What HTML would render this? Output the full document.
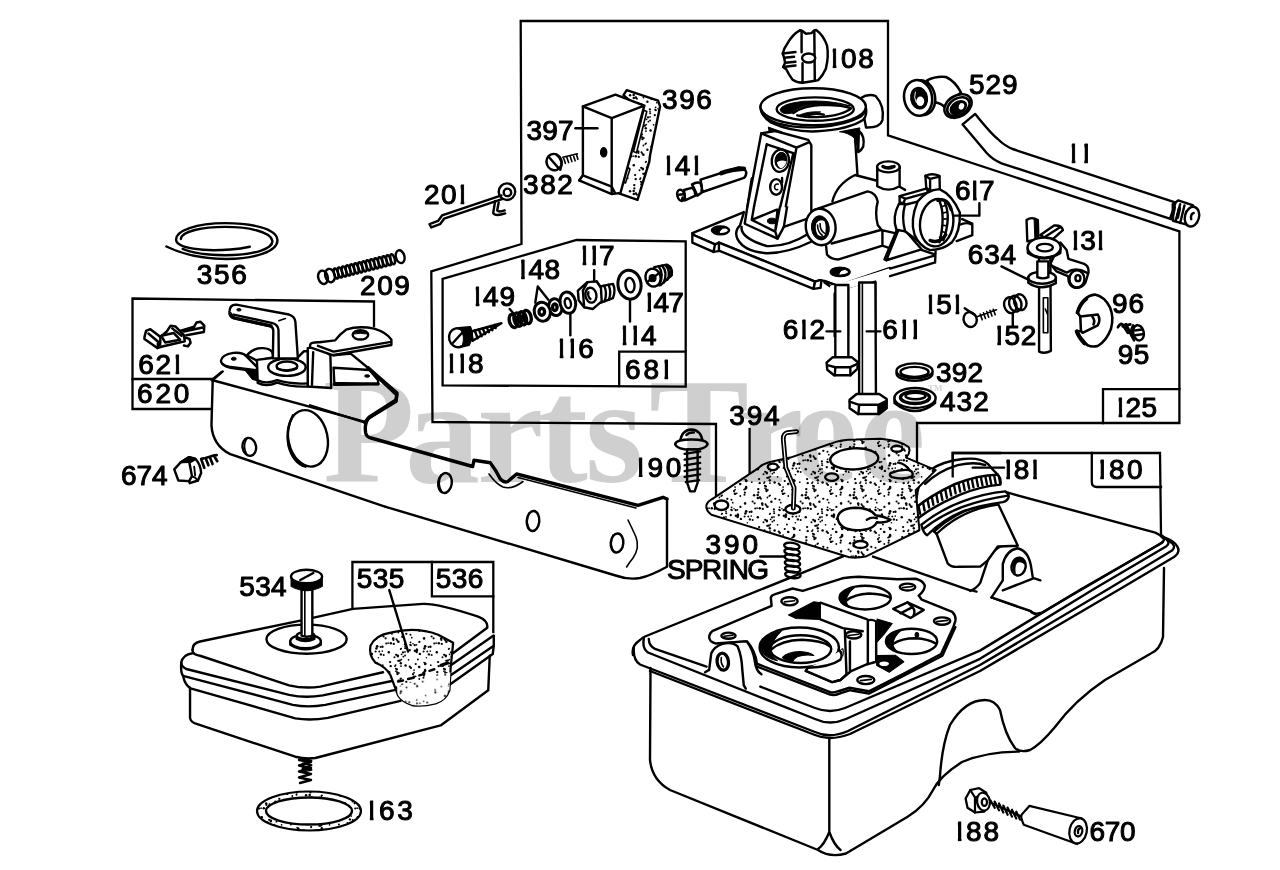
<!DOCTYPE html>
<html><head><meta charset="utf-8"><title>Parts Diagram</title>
<style>
html,body{margin:0;padding:0;background:#fff;}
body{width:1280px;height:870px;overflow:hidden;font-family:"Liberation Sans",sans-serif;}
svg{display:block;position:absolute;left:0;top:0;}
.wm{font-family:"Liberation Serif",serif;font-weight:bold;fill:#000;fill-opacity:0.19;}
.l{fill:none;stroke:#000;stroke-width:2.4;stroke-linecap:round;stroke-linejoin:round;}
.t{fill:none;stroke:#000;stroke-width:1.6;stroke-linecap:round;stroke-linejoin:round;}
.h{fill:none;stroke:#000;stroke-width:3.4;stroke-linecap:round;stroke-linejoin:round;}
.w{fill:#fff;stroke:#000;stroke-width:2.4;stroke-linecap:round;stroke-linejoin:round;}
.wt{fill:#fff;stroke:#000;stroke-width:1.6;stroke-linecap:round;stroke-linejoin:round;}
.k{fill:#000;stroke:#000;stroke-width:1;stroke-linejoin:round;}
.f{fill:#fff;stroke:none;}
.n{font-family:"Liberation Sans",sans-serif;fill:#000;stroke:#000;stroke-width:1.05;stroke-linejoin:round;}
.bx{fill:none;stroke:#000;stroke-width:2.3;stroke-linecap:square;stroke-linejoin:miter;}
g.z4 .l, g.z4 .w{stroke-width:9.6;} g.z4 .t, g.z4 .wt{stroke-width:6.4;} g.z4 .h{stroke-width:13.5;} g.z4 .k{stroke-width:4;}
g.z6 .l, g.z6 .w{stroke-width:15.3;} g.z6 .t, g.z6 .wt{stroke-width:10.2;} g.z6 .h{stroke-width:21.5;} g.z6 .k{stroke-width:6;}
g.z5 .l, g.z5 .w{stroke-width:12;} g.z5 .t, g.z5 .wt{stroke-width:8;} g.z5 .h{stroke-width:16;} g.z5 .k{stroke-width:5;}
</style></head>
<body>
<svg width="1280" height="870" viewBox="0 0 1280 870">
<rect width="1280" height="870" fill="#fff"/>
<!-- 00_boxes.py -->
<g id="boxes">
<path class="bx" d="M716,496 L716,424 L432.5,422 L431.3,271.4 L521.5,244 L520.7,21 L888,21 L888,135.3 L1179.4,231.3 L1179.4,423 L917,423 L917,461"/>
<path class="bx" d="M1103,423 L1103,389.2 L1179.4,389.2"/>
<path class="bx" d="M442.6,278.9 L576.6,240 L685.7,241.3 L685.7,386.6 L442.6,385.4 Z"/>
<path class="bx" d="M619.2,386 L619.2,351.6 L685.7,351.6"/>
<path class="bx" d="M211,409 L132.5,409 L132.5,298.5 L374,301.5 L374,326"/>
<path class="bx" d="M132.5,379 L212,379"/>
<path class="bx" d="M352.4,609 L352.4,562 L493.3,562 L493.3,632"/>
<path class="bx" d="M431.9,562 L431.9,596.4 L493.3,596.4"/>
<path class="bx" d="M952.7,476.4 L952.7,453 L1160,453 L1161,534"/>
<path class="bx" d="M1091.8,453 L1091.8,482 Q1091.8,487 1097,487 L1161,487"/>
<path class="bx" d="M749.6,429 L749.6,478"/>
</g>

<!-- 05_defs.py -->
<defs><pattern id="stipD" width="48" height="48" patternUnits="userSpaceOnUse"><rect width="48" height="48" fill="#fff"/><circle cx="21.7" cy="26.9" r="1.26"/><circle cx="22.4" cy="24.4" r="1.09"/><circle cx="8.9" cy="24.6" r="1.11"/><circle cx="38.1" cy="4.5" r="0.95"/><circle cx="4.4" cy="38.9" r="1.15"/><circle cx="2.0" cy="47.1" r="1.28"/><circle cx="2.0" cy="-0.9" r="1.28"/><circle cx="31.4" cy="29.5" r="0.88"/><circle cx="0.7" cy="25.4" r="0.83"/><circle cx="48.7" cy="25.4" r="0.83"/><circle cx="9.1" cy="11.6" r="0.82"/><circle cx="22.3" cy="21.1" r="1.22"/><circle cx="24.9" cy="30.7" r="1.05"/><circle cx="31.8" cy="22.0" r="0.94"/><circle cx="47.9" cy="47.8" r="1.22"/><circle cx="-0.1" cy="-0.2" r="1.22"/><circle cx="-0.1" cy="47.8" r="1.22"/><circle cx="47.9" cy="-0.2" r="1.22"/><circle cx="34.0" cy="15.1" r="0.91"/><circle cx="13.9" cy="3.4" r="1.18"/><circle cx="19.2" cy="40.6" r="0.99"/><circle cx="46.0" cy="40.7" r="0.80"/><circle cx="10.1" cy="43.7" r="1.03"/><circle cx="47.1" cy="19.1" r="0.84"/><circle cx="30.2" cy="37.4" r="0.93"/><circle cx="4.2" cy="16.0" r="1.28"/><circle cx="36.4" cy="5.7" r="0.92"/><circle cx="4.9" cy="2.9" r="1.20"/><circle cx="8.5" cy="26.8" r="1.02"/><circle cx="9.2" cy="35.1" r="0.87"/><circle cx="30.9" cy="5.6" r="1.01"/><circle cx="10.2" cy="13.0" r="1.29"/><circle cx="38.6" cy="14.6" r="1.24"/><circle cx="10.1" cy="18.9" r="1.23"/><circle cx="30.8" cy="4.8" r="1.29"/><circle cx="10.2" cy="12.4" r="1.19"/><circle cx="15.8" cy="14.2" r="0.84"/><circle cx="4.3" cy="28.0" r="0.92"/><circle cx="28.9" cy="17.8" r="1.03"/><circle cx="46.0" cy="23.2" r="1.09"/><circle cx="41.6" cy="8.8" r="0.88"/><circle cx="43.6" cy="39.3" r="0.92"/><circle cx="9.1" cy="35.5" r="1.27"/><circle cx="9.4" cy="45.6" r="1.24"/><circle cx="29.0" cy="20.2" r="0.85"/><circle cx="1.9" cy="46.2" r="0.92"/><circle cx="33.8" cy="12.3" r="1.21"/><circle cx="28.6" cy="14.1" r="0.89"/><circle cx="34.6" cy="3.3" r="0.91"/><circle cx="26.8" cy="40.9" r="1.11"/><circle cx="13.5" cy="44.0" r="0.90"/><circle cx="0.8" cy="12.9" r="1.02"/><circle cx="48.8" cy="12.9" r="1.02"/><circle cx="2.9" cy="8.5" r="0.98"/><circle cx="27.5" cy="6.3" r="0.98"/><circle cx="42.8" cy="47.1" r="1.13"/><circle cx="42.8" cy="-0.9" r="1.13"/><circle cx="33.2" cy="28.1" r="0.87"/><circle cx="1.7" cy="0.9" r="1.26"/><circle cx="1.7" cy="48.9" r="1.26"/><circle cx="33.6" cy="46.2" r="0.81"/><circle cx="30.5" cy="23.1" r="1.17"/><circle cx="15.3" cy="48.0" r="0.84"/><circle cx="15.3" cy="-0.0" r="0.84"/><circle cx="26.2" cy="35.4" r="1.25"/><circle cx="35.4" cy="33.8" r="1.20"/><circle cx="43.9" cy="16.9" r="1.14"/><circle cx="43.2" cy="41.8" r="1.01"/><circle cx="37.9" cy="41.4" r="1.09"/><circle cx="30.0" cy="18.4" r="1.09"/><circle cx="29.2" cy="3.8" r="1.12"/><circle cx="47.7" cy="42.2" r="1.16"/><circle cx="-0.3" cy="42.2" r="1.16"/><circle cx="18.6" cy="35.3" r="1.09"/><circle cx="21.1" cy="40.2" r="0.84"/><circle cx="36.0" cy="1.4" r="1.10"/><circle cx="23.1" cy="11.1" r="1.15"/><circle cx="23.9" cy="29.5" r="1.26"/><circle cx="12.3" cy="0.5" r="0.95"/><circle cx="12.3" cy="48.5" r="0.95"/><circle cx="32.6" cy="9.7" r="0.88"/><circle cx="43.5" cy="31.7" r="1.02"/><circle cx="42.8" cy="15.7" r="1.13"/><circle cx="9.5" cy="20.7" r="1.20"/><circle cx="43.9" cy="42.3" r="0.99"/><circle cx="28.0" cy="15.2" r="0.87"/><circle cx="23.8" cy="40.2" r="1.22"/><circle cx="34.1" cy="45.6" r="0.94"/><circle cx="8.1" cy="21.6" r="0.94"/><circle cx="10.3" cy="19.9" r="1.11"/><circle cx="23.7" cy="15.1" r="1.22"/><circle cx="47.1" cy="21.7" r="0.84"/><circle cx="1.5" cy="41.9" r="0.82"/><circle cx="34.0" cy="27.4" r="0.95"/><circle cx="38.0" cy="0.9" r="0.87"/><circle cx="21.8" cy="1.2" r="1.21"/><circle cx="21.8" cy="49.2" r="1.21"/><circle cx="11.4" cy="6.8" r="0.82"/><circle cx="30.2" cy="21.4" r="1.11"/><circle cx="31.4" cy="38.8" r="1.28"/><circle cx="32.9" cy="9.6" r="1.04"/><circle cx="8.6" cy="0.5" r="1.04"/><circle cx="8.6" cy="48.5" r="1.04"/><circle cx="34.3" cy="8.6" r="0.94"/><circle cx="16.6" cy="33.5" r="1.06"/><circle cx="29.5" cy="36.3" r="1.00"/><circle cx="38.0" cy="43.5" r="0.84"/><circle cx="44.8" cy="34.7" r="0.86"/><circle cx="21.8" cy="30.0" r="1.25"/><circle cx="18.1" cy="27.3" r="1.24"/><circle cx="38.2" cy="45.3" r="1.03"/><circle cx="31.3" cy="9.8" r="1.16"/><circle cx="39.3" cy="30.8" r="1.16"/><circle cx="10.2" cy="43.2" r="1.29"/><circle cx="46.9" cy="25.8" r="1.20"/><circle cx="-1.1" cy="25.8" r="1.20"/><circle cx="15.4" cy="43.7" r="1.23"/><circle cx="16.7" cy="4.0" r="1.02"/><circle cx="26.4" cy="36.9" r="1.04"/></pattern><pattern id="stipL" width="48" height="48" patternUnits="userSpaceOnUse"><rect width="48" height="48" fill="#fff"/><circle cx="1.4" cy="38.8" r="0.73"/><circle cx="38.4" cy="8.3" r="0.85"/><circle cx="37.8" cy="6.7" r="0.77"/><circle cx="24.8" cy="34.7" r="1.08"/><circle cx="33.1" cy="45.4" r="0.92"/><circle cx="45.6" cy="4.1" r="0.80"/><circle cx="25.3" cy="13.9" r="1.03"/><circle cx="30.7" cy="25.1" r="1.08"/><circle cx="26.9" cy="15.0" r="0.87"/><circle cx="40.6" cy="43.2" r="0.79"/><circle cx="40.8" cy="46.5" r="0.94"/><circle cx="27.5" cy="9.6" r="0.94"/><circle cx="24.2" cy="29.1" r="0.71"/><circle cx="46.5" cy="24.8" r="0.88"/><circle cx="38.5" cy="27.0" r="0.92"/><circle cx="33.2" cy="3.2" r="0.94"/><circle cx="19.9" cy="45.9" r="1.12"/><circle cx="12.9" cy="22.7" r="0.76"/><circle cx="20.8" cy="39.2" r="1.11"/><circle cx="22.9" cy="15.2" r="0.79"/><circle cx="29.7" cy="44.4" r="0.76"/><circle cx="37.4" cy="1.1" r="0.79"/><circle cx="10.9" cy="33.0" r="0.84"/><circle cx="17.1" cy="29.7" r="0.75"/><circle cx="35.1" cy="5.9" r="0.93"/><circle cx="12.0" cy="9.5" r="0.94"/><circle cx="21.0" cy="18.0" r="0.89"/><circle cx="25.4" cy="7.7" r="0.79"/><circle cx="30.3" cy="30.6" r="0.94"/><circle cx="40.9" cy="29.4" r="1.09"/><circle cx="11.2" cy="35.6" r="1.06"/><circle cx="43.3" cy="15.2" r="0.84"/><circle cx="44.3" cy="10.5" r="1.15"/><circle cx="42.6" cy="6.4" r="0.81"/><circle cx="34.9" cy="12.5" r="0.74"/><circle cx="39.9" cy="20.2" r="1.06"/><circle cx="6.0" cy="19.3" r="1.01"/><circle cx="0.9" cy="9.6" r="1.01"/><circle cx="48.9" cy="9.6" r="1.01"/><circle cx="43.7" cy="46.5" r="0.75"/><circle cx="24.3" cy="36.4" r="0.93"/><circle cx="32.9" cy="9.1" r="0.73"/><circle cx="5.1" cy="1.8" r="0.95"/><circle cx="24.7" cy="27.3" r="0.77"/><circle cx="8.9" cy="9.8" r="1.08"/><circle cx="47.5" cy="44.5" r="0.74"/><circle cx="-0.5" cy="44.5" r="0.74"/><circle cx="3.0" cy="45.7" r="0.91"/></pattern><pattern id="stipD4" href="#stipD" patternTransform="scale(3.99)"/><pattern id="stipL4" href="#stipL" patternTransform="scale(3.99)"/></defs>
<!-- 10_topleft.py -->
<g class="z4" transform="translate(120,160) scale(0.2506)">
<path class="l" d="M185,345 C240,372 310,394 425,395 C545,395 632,362 628,318 C624,272 520,252 420,252 C305,252 220,282 224,320 C228,352 330,366 440,357 C480,354 500,350 518,346"/>
<path class="l" d="M243,315 C245,284 330,267 420,267 C515,267 602,287 608,322 C612,352 540,380 420,380 C345,380 285,370 250,355"/>
<ellipse class="l" cx="810.0" cy="468.0" rx="19.0" ry="27.0" transform="rotate(-15.0 810.0 468.0)"/>
<ellipse class="l" cx="838.0" cy="461.0" rx="19.0" ry="27.0" transform="rotate(-15.0 838.0 461.0)"/>
<ellipse class="l" cx="862.0" cy="453.0" rx="8.0" ry="21.0" transform="rotate(-15.0 862.0 453.0)"/>
<ellipse class="l" cx="878.1" cy="448.9" rx="8.0" ry="21.0" transform="rotate(-15.0 878.1 448.9)"/>
<ellipse class="l" cx="894.3" cy="444.9" rx="8.0" ry="21.0" transform="rotate(-15.0 894.3 444.9)"/>
<ellipse class="l" cx="910.4" cy="440.8" rx="8.0" ry="21.0" transform="rotate(-15.0 910.4 440.8)"/>
<ellipse class="l" cx="926.6" cy="436.7" rx="8.0" ry="21.0" transform="rotate(-15.0 926.6 436.7)"/>
<ellipse class="l" cx="942.7" cy="432.6" rx="8.0" ry="21.0" transform="rotate(-15.0 942.7 432.6)"/>
<ellipse class="l" cx="958.9" cy="428.6" rx="8.0" ry="21.0" transform="rotate(-15.0 958.9 428.6)"/>
<ellipse class="l" cx="975.0" cy="424.5" rx="8.0" ry="21.0" transform="rotate(-15.0 975.0 424.5)"/>
<ellipse class="l" cx="991.1" cy="420.4" rx="8.0" ry="21.0" transform="rotate(-15.0 991.1 420.4)"/>
<ellipse class="l" cx="1007.3" cy="416.4" rx="8.0" ry="21.0" transform="rotate(-15.0 1007.3 416.4)"/>
<ellipse class="l" cx="1023.4" cy="412.3" rx="8.0" ry="21.0" transform="rotate(-15.0 1023.4 412.3)"/>
<ellipse class="l" cx="1039.6" cy="408.2" rx="8.0" ry="21.0" transform="rotate(-15.0 1039.6 408.2)"/>
<ellipse class="l" cx="1055.7" cy="404.1" rx="8.0" ry="21.0" transform="rotate(-15.0 1055.7 404.1)"/>
<ellipse class="l" cx="1071.9" cy="400.1" rx="8.0" ry="21.0" transform="rotate(-15.0 1071.9 400.1)"/>
<ellipse class="l" cx="1088.0" cy="396.0" rx="8.0" ry="21.0" transform="rotate(-15.0 1088.0 396.0)"/>
<ellipse class="l" cx="1118" cy="386" rx="17" ry="26" transform="rotate(-15 1118 386)"/>
</g>
<g class="z4" transform="translate(120,290) scale(0.2506)">
<path class="l" d="M370,360 L975,525"/>
<path class="l" d="M370,360 L365,540 Q370,620 440,655 L1060,865"/>
<path class="l" d="M370,360 L410,325"/>
<ellipse class="l" cx="750" cy="592" rx="78" ry="114" transform="rotate(-12 750 592)"/>
<path class="l" d="M690,500 Q660,560 672,620 Q690,690 740,705"/>
<ellipse class="l" cx="516" cy="626" rx="27" ry="36" transform="rotate(-10 516 626)"/>
<path class="t" d="M503,598 Q490,625 505,655"/>
</g>
<g class="z6" transform="translate(210,295) scale(0.15637)">
<path class="w" d="M625,340 L625,585 L775,595 L770,385 L690,330 Z"/>
<path class="l" d="M660,365 L652,575"/>
<path class="w" d="M640,322 Q640,300 700,302 L800,290 Q830,250 870,222 Q950,195 1050,215 Q1130,240 1160,285 L1160,320 L785,385 L640,335 Z"/>
<path class="l" d="M690,325 L790,362 L1158,300"/>
<ellipse class="l" cx="962" cy="255" rx="50" ry="30"/>
<path class="k" d="M915,250 Q960,215 1010,250 Q960,240 915,250 Z"/>
<path class="w" d="M790,465 L1020,480 L1075,545 L1075,570 L795,562 Z"/>
<path class="h" d="M795,572 L1075,568"/>
<ellipse class="k" cx="1005" cy="518" rx="16" ry="8"/>
<path class="l" d="M790,385 L900,375 L1010,465"/>
<path class="h" d="M1010,465 L1195,640 L1190,680 L1010,790 L990,815"/>

<path class="w" d="M235,385 Q280,335 340,340 Q400,345 402,380 L405,400 L300,420 Z"/>
<path class="w" d="M300,415 L420,400 L560,400 L600,360 L625,360 L625,585 Q520,590 430,560 Q360,590 305,562 Z"/>
<path class="l" d="M305,545 Q360,572 430,545 Q520,572 622,565"/>
<ellipse class="w" cx="492" cy="462" rx="120" ry="55"/>
<ellipse class="l" cx="492" cy="455" rx="66" ry="30"/>
<path class="l" d="M430,470 Q490,495 555,468"/>

<path class="k" d="M215,470 L300,480 L300,548 L270,540 Z"/>
<path class="w" d="M70,420 Q75,382 150,370 Q210,365 230,390 L300,460 L300,482 L120,458 Q70,448 70,420 Z"/>
<path class="l" d="M80,440 Q100,462 130,465 L300,488"/>
<ellipse class="k" cx="152" cy="408" rx="16" ry="10"/>

<path class="w" d="M125,100 Q128,60 168,62 L505,125 Q542,135 546,172 L562,405 L402,405 L405,230 Q405,205 385,200 L150,148 Q120,135 125,100 Z"/>
<path class="l" d="M150,125 L400,180 Q436,190 438,225 L440,412"/>
<path class="h" d="M130,120 Q135,142 160,148 L390,198"/>
<path class="t" d="M440,165 L482,150"/>
<ellipse class="k" cx="185" cy="95" rx="14" ry="8"/>

<path class="l" d="M10,545 L75,492"/>
</g>
<g transform="translate(130,310) scale(0.0782)" fill="none" stroke="#000" stroke-width="32" stroke-linejoin="round" stroke-linecap="round"><path d="M185,345 L205,268 L260,245 L390,345 L385,440 L350,485 L185,372 Z"/><path d="M235,300 L360,405 L355,450 M390,345 L470,275 L520,200 L580,210 L690,320 L700,400 L400,470 L350,485"/><path d="M400,330 L560,295 L640,380 L450,415 Z M540,235 L660,330"/><path d="M640,268 L820,215 L850,160 L900,150 L950,200 L945,280 L720,322 M690,275 L930,225"/><path d="M700,350 L760,370 L775,420 L740,465 L690,455"/></g>
<g transform="translate(160,440) scale(0.0633)" fill="#fff" stroke="#000" stroke-width="38" stroke-linejoin="round" stroke-linecap="round"><path d="M330,350 L460,270 L560,300 Q640,380 650,520 L600,640 L470,682 L460,650 Z"/><path d="M225,465 L330,350 L460,335 L505,570 L460,650 L290,640 Z"/><path d="M330,350 L460,270 L560,300 L480,345 Z M460,335 L560,300" fill="#000"/><path d="M540,420 L555,560 M600,640 L560,600 L505,570" fill="none" stroke-width="30"/><path d="M650,300 L700,440 M720,285 L765,400 M785,265 L830,380 M850,245 L905,335 M650,300 L690,290 M720,285 L760,272 M785,265 L825,252 M850,245 L895,240" fill="none" stroke-width="42"/></g>
<!-- 20_mid.py -->
<defs>
<clipPath id="c396"><path d="M825,280 L950,322 L958,345 L918,540 L915,565 L868,718 L788,690 L830,560 L835,520 L880,360 L812,300 Z"/></clipPath>
</defs>
<g class="z4" transform="translate(420,20) scale(0.2506)">
<path class="l" d="M38,815 L72,802 L88,780 L325,700 M45,828 L80,815 L96,793 L330,714 M38,815 L45,828"/>
<circle class="l" cx="347" cy="685" r="33"/><circle class="l" cx="349" cy="688" r="15"/>
<path class="l" d="M300,722 L292,770 Q300,785 340,772 M314,728 L308,760 Q315,768 338,760"/>
<ellipse class="l" cx="535" cy="567" rx="30" ry="33" transform="rotate(-20 535 567)"/>
<path class="l" d="M515,548 L552,590 M545,538 Q575,560 560,598"/>
<path class="t" d="M572,548 L580,572 M585,545 L593,569 M598,541 L606,565 M611,538 L619,562 M624,535 L630,556 M570,548 L628,534"/>
<path d="M825,280 L950,322 L958,345 L918,540 L915,565 L868,718 L788,690 L830,560 L835,520 L880,360 L812,300 Z" fill="url(#stipD4)" stroke="#000" stroke-width="9.6" stroke-linejoin="round"/>
<path class="wt" d="M852,525 L893,360 L905,365 L864,530 Z"/><path class="wt" d="M808,645 L825,590 L838,595 L820,650 Z"/>
<path class="w" d="M650,345 L780,298 L895,342 L800,690 L765,695 L635,640 L650,620 Z"/>
<path class="l" d="M650,345 L765,392 L895,342 M765,392 L765,692 M650,620 L765,665 M635,640 L650,620"/>
<path class="l" d="M765,665 L778,690"/>
<ellipse class="k" cx="733" cy="528" rx="13" ry="19"/>
<path class="l" d="M620,432 L708,432"/>
</g>
<g class="z4" transform="translate(420,225) scale(0.2506)">
<ellipse class="l" cx="150" cy="450" rx="34" ry="38" transform="rotate(-15 150 450)"/>
<path class="l" d="M132,470 L170,428"/>
<path class="l" d="M155,412 L200,408 Q215,440 195,478 L165,485"/>
<path class="k" d="M160,412 L200,408 Q215,440 195,478 L168,484 Q182,445 160,412 Z"/>
<path class="l" d="M205,425 L325,392 L210,462 Z"/>
<path class="l" d="M218,420 L230,452 M234,416 L246,444 M250,412 L260,436 M266,408 L275,428 M282,403 L289,420 M298,399 L302,411"/>
<ellipse class="h" cx="372.0" cy="383.0" rx="15.0" ry="27.0" transform="rotate(-15.0 372.0 383.0)"/>
<ellipse class="h" cx="390.7" cy="377.7" rx="15.0" ry="27.0" transform="rotate(-15.0 390.7 377.7)"/>
<ellipse class="h" cx="409.3" cy="372.3" rx="15.0" ry="27.0" transform="rotate(-15.0 409.3 372.3)"/>
<ellipse class="h" cx="428.0" cy="367.0" rx="15.0" ry="27.0" transform="rotate(-15.0 428.0 367.0)"/>
<ellipse class="w" cx="540" cy="328" rx="26" ry="34" transform="rotate(-15 540 328)" style="stroke-width:12"/><ellipse class="h" cx="538" cy="328" rx="9" ry="13"/>
<ellipse class="w" cx="488" cy="346" rx="32" ry="38" transform="rotate(-15 488 346)" style="stroke-width:12"/><ellipse class="h" cx="486" cy="346" rx="11" ry="14"/>
<path class="l" d="M470,245 L460,310 M470,245 L512,298"/>
<ellipse class="w" cx="590" cy="310" rx="31" ry="43" transform="rotate(-12 590 310)" style="stroke-width:12"/><ellipse class="l" cx="590" cy="312" rx="12" ry="20" transform="rotate(-12 590 312)"/>
<path class="l" d="M600,355 L600,440"/>
<path class="w" d="M720,245 L770,235 Q782,260 770,292 L722,310 Z"/>
<path class="l" d="M735,242 Q748,270 737,304 M752,238 Q765,266 754,298"/>
<path class="w" d="M630,262 L668,228 L705,225 L722,250 L725,305 L690,335 L655,328 L633,300 Z"/>
<path class="l" d="M668,228 L650,262 L655,328 M705,225 L722,250"/>
<ellipse class="l" cx="682" cy="280" rx="22" ry="30" transform="rotate(-10 682 280)"/>
<path class="l" d="M672,268 Q668,285 680,295"/>
<path class="l" d="M695,180 L695,225"/>
<ellipse class="w" cx="836" cy="238" rx="46" ry="58" transform="rotate(-8 836 238)" style="stroke-width:12"/><ellipse class="l" cx="838" cy="240" rx="18" ry="29" transform="rotate(-8 838 240)"/>
<path class="l" d="M838,298 L838,385"/>
<path class="w" d="M935,168 L985,158 Q1010,170 1005,200 L960,240 L930,240 Z"/>
<path class="l" d="M952,165 Q975,195 955,240 M966,162 Q990,190 972,230 M980,160 Q1002,185 988,218 M992,163 Q1010,182 1000,205"/>
<ellipse class="w" cx="930" cy="210" rx="30" ry="36" transform="rotate(-15 930 210)"/>
<ellipse class="k" cx="928" cy="212" rx="14" ry="14"/>
<path class="l" d="M910,225 L950,195"/>
<path class="l" d="M358,335 L378,358"/>
</g>
<g transform="translate(660,140) scale(0.0943)" fill="#fff" stroke="#000" stroke-width="27" stroke-linejoin="round" stroke-linecap="round"><path d="M430,420 L830,292 Q900,285 915,345 Q912,390 890,402 L450,552 Z"/><path d="M650,352 Q760,310 890,305" fill="none" stroke-width="48"/><path d="M340,470 Q390,440 430,455 Q450,500 440,560 L395,590 Q375,540 340,470 Z"/><path d="M255,530 L345,505 Q378,545 375,590 L265,640 Z"/><ellipse cx="222" cy="587" rx="38" ry="60" transform="rotate(-15 222 587)"/><path d="M200,580 L245,575 M240,610 L232,640" fill="none"/></g>
<!-- 30_carb.py -->
<g class="z6" transform="translate(690,180) scale(0.15637)"><path class="f" d="M925,690 L925,1000 L1010,1000 L1010,690 Z"/><path class="l" d="M925,690 L925,1000 M1010,690 L1010,1000"/>
<path class="f" d="M1085,670 L1085,1000 L1185,1000 L1185,650 Z"/><path class="l" d="M1085,670 L1085,1000 M1185,650 L1185,1000"/>
<path class="t" d="M1108,680 L1108,1000"/><path class="k" d="M1150,650 L1185,640 L1185,700 Z"/></g>
<g class="z6" transform="translate(690,180) scale(0.15637)"><path class="f" d="M15,340 L345,205 L900,120 L1600,300 L1562,480 L945,677 L860,645 L832,640 L800,650 L185,400 L160,412 L30,355 Z"/>
<path class="l" d="M345,205 L15,340 L30,355 L160,412 L185,400 L800,650 L832,640 L860,645 L945,677 L1279,562"/>
<path class="w" d="M15,340 L15,400 L150,460 L160,412 L30,355 Z"/>
<path class="w" d="M185,400 L185,452 L790,696 L800,650 Z"/>
<path class="w" d="M800,650 L790,696 L835,690 L840,645 L832,640 Z"/>
<path class="w" d="M860,647 L860,655 L940,710 L945,677 Z"/>
<path class="f" d="M945,677 L940,710 L1279,598 L1279,562 Z"/><path class="l" d="M945,677 L940,710 L1279,598"/>
<path class="l" d="M150,460 L180,455 L185,452"/>
<ellipse class="l" cx="195" cy="322" rx="55" ry="25"/><path class="k" d="M142,322 Q150,298 195,298 Q215,300 225,305 Q190,310 185,345 Q150,345 142,322 Z"/>
<ellipse class="l" cx="960" cy="588" rx="58" ry="25"/><path class="k" d="M904,588 Q912,564 960,564 Q980,566 990,571 Q955,576 950,611 Q912,611 904,588 Z"/></g>
<g class="z6" transform="translate(830,150) scale(0.15637)"><path class="f" d="M0,872 L662,677 L675,650 L672,719 L192,864 L0,920 Z"/>
<path class="l" d="M384,758 L662,677 M384,806 L668,720 M675,650 L672,720 M584,638 L660,665"/>
<path class="f" d="M810,580 L910,545 L910,470 L840,440 L780,500 L700,600 Z"/>
<path class="l" d="M810,582 L910,545 L910,470 L845,442 M830,478 Q870,458 905,476"/>
<ellipse class="l" cx="65" cy="780" rx="60" ry="26"/><path class="k" d="M8,780 Q15,756 60,756 Q85,758 95,763 Q58,768 52,803 Q15,803 8,780 Z"/></g>
<g class="z6" transform="translate(690,180) scale(0.15637)"><path class="f" d="M345,205 L320,290 Q280,330 305,380 Q350,460 490,468 Q620,470 775,395 L775,160 L345,160 Z"/>
<path class="l" d="M345,205 L320,290 Q280,330 305,380 Q350,460 490,468 Q620,470 775,395"/>
<path class="l" d="M330,300 Q320,370 490,422 Q620,430 760,342"/></g>
<g class="z6" transform="translate(730,70) scale(0.15637)"><path class="w" d="M835,180 Q880,150 930,165 Q990,230 975,320 Q960,370 870,368 Z"/>
<path class="w" d="M820,385 Q865,420 852,490 Q840,515 820,525 Z"/>
<path class="f" d="M250,340 L250,1010 L815,960 L815,660 L800,440 L800,360 Z"/>
<path class="l" d="M800,400 L800,440 L815,668"/>
<path class="k" d="M700,395 L830,370 L822,520 L800,440 Q760,400 700,395 Z"/>
<path class="k" d="M245,365 L330,395 L250,395 Z"/></g>
<g class="z6" transform="translate(690,180) scale(0.15637)"><path class="f" d="M395,-10 L350,280 L560,375 L600,300 L770,240 L770,-10 Z"/>
<path class="l" d="M395,-10 L350,280 L560,375 L600,300 L770,240"/>
<path class="l" d="M440,-10 L395,255 L545,330 L560,375 M395,255 L555,190 M545,330 L610,-10 M600,300 L650,-10 M560,190 L545,330"/>
<ellipse class="k" cx="525" cy="262" rx="30" ry="18"/></g>
<g class="z6" transform="translate(730,70) scale(0.15637)"><path class="f" d="M200,405 L288,390 L500,447 L520,480 L520,872 L112,872 Z"/>
<path class="l" d="M112,872 L200,405 L288,390 L500,447 L520,480 L520,960"/>
<path class="l" d="M215,412 L425,497 L500,465 M425,497 L357,872 M235,475 L405,532 L322,872 M235,475 L154,872 M200,405 L215,412"/>
<ellipse class="l" cx="322" cy="580" rx="55" ry="72" transform="rotate(8 322 580)"/>
<ellipse class="k" cx="326" cy="578" rx="38" ry="52" transform="rotate(8 326 578)"/>
<path d="M300,590 Q325,570 362,585 Q350,625 325,628 Q305,620 300,590 Z" fill="#fff"/>
<ellipse class="l" cx="295" cy="748" rx="38" ry="50"/>
<path class="t" d="M308,730 Q285,725 285,750 Q287,770 305,764"/>
<path class="l" d="M333,690 L333,720"/>
<path class="w" d="M195,235 Q195,290 260,335 Q400,400 560,392 Q760,380 850,320 Q880,290 868,235 Z"/>
<ellipse class="w" cx="532" cy="235" rx="337" ry="118"/>
<path class="l" d="M200,262 Q215,310 300,340 Q420,375 560,365 Q740,352 840,295 Q862,278 866,255"/>
<ellipse class="l" cx="545" cy="250" rx="247" ry="75"/>
<path class="k" d="M320,255 Q330,215 470,200 Q640,190 770,230 Q700,215 560,218 Q440,225 400,275 Q330,290 320,255 Z"/>
<path class="l" d="M405,275 Q470,225 600,222 Q730,225 775,245 Q720,290 580,300 Q480,305 430,290"/>
<path class="k" d="M440,290 Q500,262 580,268 Q520,275 490,300 Z"/>
<path class="l" d="M480,298 Q530,270 600,285"/></g>
<g class="z6" transform="translate(780,150) scale(0.15637)"><path class="f" d="M335,340 Q360,220 480,160 L615,195 L800,255 L800,420 L335,420 Z"/>
<path class="l" d="M335,330 Q360,220 480,160 L615,195 M765,235 L800,255"/>
<path class="w" d="M622,108 L622,232 Q693,275 765,232 L765,108 Z"/>
<ellipse class="w" cx="693" cy="108" rx="72" ry="35"/>
<path class="h" d="M658,106 Q693,124 730,106"/><path class="t" d="M680,112 L715,102"/></g>
<g class="z6" transform="translate(780,150) scale(0.15637)"><path class="f" d="M295,620 L300,668 Q325,700 375,700 L655,612 L655,515 L330,595 Z"/>
<path class="l" d="M295,615 L300,668 Q325,700 375,700 L655,612 L655,515 M655,612 L700,627 M650,512 L735,532"/>
<path class="f" d="M215,385 L560,265 Q615,275 625,330 Q605,400 625,480 L650,512 L330,598 Z"/>
<path class="l" d="M215,385 L560,265 Q615,275 625,330 Q605,400 625,480 L650,512 M330,598 L650,510"/>
<ellipse class="w" cx="260" cy="492" rx="95" ry="117" transform="rotate(-8 260 492)"/>
<ellipse class="k" cx="258" cy="498" rx="57" ry="78" transform="rotate(-8 258 498)"/>
<path d="M232,470 Q250,440 285,455 Q300,500 285,545 Q260,560 240,540 Q222,505 232,470 Z" fill="#fff"/>
<path class="t" d="M240,480 Q240,525 270,545 M256,470 Q256,515 284,532"/></g>
<g class="z6" transform="translate(780,150) scale(0.15637)"><path class="w" d="M770,480 L680,705 L905,635 Z"/><path class="l" d="M756,490 L668,700 L680,705"/>
<path class="w" d="M760,345 Q715,430 745,510 L800,520 L800,345 Z"/>
<path class="w" d="M800,350 Q775,430 800,520 L880,580 L880,330 Z"/>
<path class="w" d="M765,295 L940,245 L945,272 L800,312 L790,340 L765,335 Z"/>
<path class="l" d="M765,295 L800,310"/>
<path class="w" d="M930,165 Q970,145 1020,165 L1022,255 L960,262 L935,240 Z"/>
<path class="l" d="M960,262 L960,185 L1020,170 M930,165 L960,185"/>
<path class="w" d="M880,330 Q940,255 1020,250 Q1100,285 1150,400 Q1155,520 1100,590 Q1040,640 960,640 Q890,615 860,540 Q830,450 880,330 Z"/>
<ellipse class="w" cx="1002" cy="465" rx="106" ry="152" transform="rotate(8 1002 465)"/>
<path class="l" d="M1020,328 Q1060,420 1020,590 M1055,338 Q1095,430 1045,578"/>
<path class="h" d="M1010,322 Q1070,302 1095,380 M960,578 Q1020,602 1060,542"/>
<path class="t" d="M1038,362 L1060,354 M1046,402 L1070,397 M1048,442 L1072,440 M1044,482 L1068,484 M1036,522 L1058,528 M1020,557 L1040,567"/>
<path class="l" d="M1275,340 L1275,420 L1115,420"/></g>
<g transform="translate(770,25) scale(0.0943)" fill="#fff" stroke="#000" stroke-width="26" stroke-linejoin="round" stroke-linecap="round"><path d="M320,55 Q350,60 380,92 L440,86 Q460,55 490,52 Q570,110 605,220 Q625,330 592,465 Q560,540 512,585 L480,592 L345,612 Q280,610 240,580 Q200,530 172,470 L140,445 L160,400 L150,348 L135,302 Q150,240 185,195 Q240,100 320,55 Z"/><path d="M335,62 L335,290 M345,405 L345,608 M470,60 L475,590" fill="none"/><ellipse cx="410" cy="350" rx="70" ry="48"/><path d="M135,302 L270,287 M150,348 L255,337 M160,400 L270,390 M140,445 L270,430" fill="none"/></g>
<!-- 40_right.py -->
<g class="z4" transform="translate(890,40) scale(0.2506)">
<path class="w" d="M340,295 Q400,370 430,395 Q460,425 495,437 L1150,652 L1125,716 L445,492 Q410,478 385,450 L290,337 Z"/>
<path class="w" d="M1128,655 L1150,640 L1210,660 L1195,740 L1130,722 Z"/>
<path class="l" d="M1140,648 L1118,712 M1158,655 L1140,722 M1175,660 L1158,730"/>
<path class="h" d="M1135,668 L1128,700 M1155,672 L1147,708"/>
<ellipse class="w" cx="1205" cy="705" rx="28" ry="40" transform="rotate(15 1205 705)"/>
<path class="l" d="M1212,690 Q1198,695 1202,715"/>
</g>
<g class="z4" transform="translate(900,210) scale(0.2506)">
<path class="w" d="M505,40 Q525,25 550,40 L552,115 L508,125 Z"/><path class="k" d="M535,35 L550,40 L552,115 L538,112 Z"/>
<path class="w" d="M560,100 L615,62 Q645,60 650,80 L600,125 Z"/><path class="l" d="M578,108 L640,68"/>
<path class="w" d="M640,130 L665,160 L672,195 L735,215 Q755,225 752,250 L740,290 Q725,315 695,310 Q670,300 672,265 L625,245 L600,215 Z"/>
<path class="l" d="M610,225 L665,250 Q700,225 745,250"/>
<ellipse class="l" cx="706" cy="275" rx="30" ry="34"/><ellipse class="l" cx="710" cy="272" rx="10" ry="12"/>
<path class="w" d="M555,190 L555,565 Q578,575 602,562 L600,190 Z"/>
<path class="t" d="M572,350 L572,490 L590,490 L590,350 Z M580,395 L588,415"/>
<path class="w" d="M512,268 L512,290 Q560,325 622,292 L622,270 Z"/>
<ellipse class="w" cx="567" cy="270" rx="55" ry="24"/>
<path class="w" d="M548,205 L548,268 Q570,278 592,268 L592,205 Z"/>
<path class="w" d="M510,150 L510,172 Q575,215 640,172 L640,150 Z"/>
<ellipse class="w" cx="575" cy="150" rx="66" ry="40"/>
<ellipse class="l" cx="578" cy="150" rx="32" ry="15"/>
<path class="l" d="M405,225 L512,278"/>
<ellipse class="l" cx="280" cy="437" rx="26" ry="30" transform="rotate(-20 280 437)"/>
<path class="l" d="M258,392 L300,420"/>
<path class="t" d="M320,415 L328,438 M333,410 L341,433 M346,405 L354,428 M359,400 L367,423 M372,396 L380,418 M310,425 L385,398"/>
<ellipse class="l" cx="440" cy="380" rx="24" ry="32" transform="rotate(-15 440 380)"/>
<ellipse class="l" cx="460" cy="374" rx="24" ry="32" transform="rotate(-15 460 374)"/>
<ellipse class="l" cx="480" cy="368" rx="24" ry="32" transform="rotate(-15 480 368)"/>
<path class="l" d="M450,412 L450,460"/>
<ellipse class="w" cx="58" cy="652" rx="72" ry="30"/><ellipse class="w" cx="58" cy="642" rx="72" ry="30"/><ellipse class="l" cx="58" cy="646" rx="56" ry="20"/>
<path class="w" d="M-22,750 L-22,770 Q60,835 140,770 L140,750 Z"/>
<ellipse class="w" cx="60" cy="750" rx="82" ry="40"/><ellipse class="h" cx="60" cy="748" rx="58" ry="24"/><ellipse class="l" cx="62" cy="742" rx="40" ry="13"/></g>
<g class="z4" transform="translate(700,280) scale(0.2506)">
<path class="w" d="M540,20 L540,315 L592,315 L592,20 Z"/>
<path class="w" d="M505,330 L530,308 L605,308 L630,328 L628,355 L600,380 L535,380 L508,358 Z"/>
<path class="l" d="M508,340 L540,348 L600,348 L628,335 M540,348 L538,380 M600,348 L600,380"/>
<path class="w" d="M635,10 L635,462 L702,462 L700,10 Z"/><path class="t" d="M648,15 L648,460"/>
<path class="w" d="M597,478 L625,455 L715,455 L745,475 L745,512 L715,535 L630,535 L597,512 Z"/>
<path class="l" d="M597,485 L635,498 L712,498 L745,482 M635,498 L632,535 M712,498 L712,535"/>
<path class="k" d="M712,498 L745,482 L745,512 L715,535 Z"/>
<path class="l" d="M505,205 L560,205 M665,205 L720,205"/></g>
<g transform="translate(1060,280) scale(0.0943)" fill="#fff" stroke="#000" stroke-width="27" stroke-linejoin="round" stroke-linecap="round"><path d="M370,155 Q470,175 530,290 Q575,400 540,520 Q490,650 400,700 Q340,715 290,690 Q220,640 178,545 L222,540 L215,388 L185,345 Q200,260 260,205 Q310,160 370,155 Z"/><path d="M185,345 Q215,250 280,200" fill="none" stroke-width="40"/><path d="M215,388 L400,365 Q435,420 400,482 L240,560 L222,540 M345,392 Q375,430 355,470 M178,545 Q215,630 290,690" fill="none"/><path d="M178,545 Q200,610 260,670" fill="none" stroke-width="44"/><ellipse cx="832" cy="560" rx="56" ry="82" transform="rotate(-12 832 560)"/><path d="M795,535 L870,525 M795,585 L872,575 M775,480 Q730,560 785,640" fill="none"/><path d="M615,500 Q640,455 660,470 L720,560 M665,490 L700,470 L760,590 M705,480 L745,470" fill="none" stroke-width="30"/></g>
<g transform="translate(895,60) scale(0.0943)" fill="#fff" stroke="#000" stroke-width="27" stroke-linejoin="round" stroke-linecap="round"><path d="M340,215 Q430,170 540,180 Q640,225 700,345 L520,495 Q485,455 430,450 Z"/><ellipse cx="285" cy="400" rx="140" ry="185" transform="rotate(-10 285 400)"/><ellipse cx="245" cy="402" rx="148" ry="190" transform="rotate(-10 245 402)"/><ellipse cx="255" cy="405" rx="82" ry="108" transform="rotate(-10 255 405)" fill="#000"/><ellipse cx="268" cy="438" rx="42" ry="50" stroke="none"/><path d="M215,340 Q195,400 225,450" fill="none" stroke="#fff" stroke-width="10"/><ellipse cx="668" cy="488" rx="155" ry="112" transform="rotate(-32 668 488)"/><ellipse cx="672" cy="495" rx="128" ry="88" transform="rotate(-32 672 495)"/><ellipse cx="672" cy="505" rx="88" ry="58" transform="rotate(-32 672 505)" fill="#000"/><ellipse cx="705" cy="492" rx="28" ry="36" transform="rotate(20 705 492)" stroke="none"/></g>
<!-- 45_tank.py -->
<g id="tank">
<path class="f" d="M645,636.5 L843,556.3 L1003,491.5 L1155.3,532.6 Q1178,545 1178.5,556 L1164,570 L1163,637 Q1160,655 1090,690 Q1060,710 1040,735 Q1028,750 1019,751.6 L985,757 Q955,770 940,805 L930,810 L846,853.5 Q830,858 818,850 L670,790 Q652,780 650,760 L650,668 L636,662 L633,648 Z"/>
<path class="l" d="M650.5,668 L650,760 Q652,780 670,790 L818,850 Q830,858 846,853.5 L907.6,816.8 Q925,806 933,790 Q940,776 962,762 Q985,752 1019,751.6"/>
<path class="l" d="M829.3,738.5 L829.3,832 Q824,845 818,849 M829.3,832 Q834,845 840.5,850"/>
<path class="l" d="M1164,568 L1163,637 Q1160,650 1150,654 L1105,680 Q1075,700 1055,727 Q1040,745 1030,750 Q1020,753 1015,748 Q1005,735 1000,710 Q995,700 985,700 Q965,700 950,725 Q942,745 940,776 L938.8,785"/>
<!-- rim -->
<path class="l" d="M633,655 Q631,646 640,640 Q642,638 645,636.5 L843,556.3"/>
<path class="l" d="M648.8,639 Q649,646 655,648.8 L706.5,666.6 M760.3,686.6 L815,708 Q830,714 845,708 L980,650.6 L1081.4,589 L1160,544 Q1166,540 1162.8,538 Q1160,534.5 1155.3,532.6 L1007.8,492.7"/>
<path class="l" d="M643.8,639 Q642,648 648,652.5 L815,719 Q830,726 846,719 L980,658.8 L1093.9,589 L1166,546.5 Q1171,543 1166,539"/>
<path class="l" d="M633.8,647.8 Q633,660 640,664.5 L815,732 Q830,739 848,731 L980,665 L1108.3,589 L1172,550.5 Q1177,546 1170,541.5 Q1166,538.5 1161,535"/>
<path class="l" d="M650,671 L815,735 Q830,741.5 850,734 L980,671 L1120,589 L1174,557 Q1181,552 1177,546 Q1174,541 1166,538"/>
</g>
<!-- 47_tanktop.py -->
<path class="l" d="M873,556.6 L970,590.4"/>
<g class="z5" transform="translate(700,560) scale(0.20344)">
<path class="w" d="M348,185 Q352,172 370,168 L455,140 L505,152 L700,90 Q740,82 780,82 L970,95 L1060,92 Q1095,100 1105,125 Q1105,150 1075,175 L1090,195 L1240,255 Q1260,275 1255,300 L1245,330 L1185,462 L1000,560 L830,645 L735,628 L680,645 Q655,655 640,650 L280,510 Q270,440 230,400 L150,405 L75,410 Q45,400 45,378 Q48,358 60,350 L352,225 Z"/>
<path class="l" d="M275,522 L640,662 Q660,668 685,657 L738,640 L830,657 L1192,470 L1255,330"/>
<path class="k" d="M435,270 L560,205 L592,210 L592,292 L470,287 Z"/>
<path class="l" d="M592,210 L822,292 M592,292 L702,335 L800,350 M712,345 L720,560 M737,400 L737,545"/>
<path class="k" d="M870,290 L945,312 L905,365 L872,402 Z"/>
<path class="w" d="M825,297 L825,512 L866,500 L866,302 Q845,290 825,297 Z"/>
<path class="k" d="M868,470 L960,468 L1002,500 L930,552 L868,518 Z"/>
<ellipse class="w" cx="905" cy="510" rx="30" ry="17"/>
<path class="l" d="M822,512 L740,548 L690,590 L650,600 L520,545 L530,530 Q640,525 690,490 Q705,465 700,440"/>
<ellipse class="w" cx="488" cy="430" rx="195" ry="98"/>
<path class="f" d="M600,500 L700,440 L710,540 L650,600 L525,545 L535,528 Z"/>
<path class="l" d="M683,440 Q705,465 690,490 Q640,525 530,530 L520,545 L650,600 L690,590 L722,560"/>
<ellipse class="l" cx="495" cy="438" rx="150" ry="68"/>
<path class="k" d="M296,425 Q305,370 400,350 Q360,385 348,440 Q350,475 380,495 Q305,480 296,425 Z"/>
<path class="l" d="M350,440 Q400,395 500,392 Q600,395 640,425"/>
<path class="k" d="M405,478 Q430,452 490,450 Q540,452 560,470 Q520,462 480,475 Q460,485 455,500 Q415,495 405,478 Z"/>
<ellipse class="w" cx="812" cy="185" rx="126" ry="58"/>
<path class="k" d="M688,190 Q692,150 760,135 Q725,160 718,200 Q722,225 745,236 Q695,225 688,190 Z"/>
<path class="l" d="M718,200 Q760,168 830,165 Q900,168 935,185"/>
<ellipse class="w" cx="1040" cy="400" rx="126" ry="62"/>
<path class="k" d="M916,405 Q920,362 990,345 Q955,372 948,412 Q952,440 975,452 Q922,440 916,405 Z"/>
<path class="l" d="M950,412 Q990,385 1060,385 Q1120,388 1158,410"/>
<ellipse class="k" cx="1066" cy="368" rx="9" ry="12"/>
<path class="w" d="M950,240 L1020,208 L1100,245 L1035,285 Z"/><path class="l" d="M985,262 L1045,232 Q1060,250 1050,272 M1020,208 L1045,232"/>
<ellipse class="w" cx="440" cy="203" rx="40" ry="20"/><path class="t" d="M415,206 L465,200"/>
<ellipse class="w" cx="140" cy="372" rx="35" ry="15"/><path class="t" d="M118,375 L162,369"/>
<ellipse class="w" cx="755" cy="368" rx="38" ry="18"/><path class="t" d="M730,371 L780,365"/>
<ellipse class="w" cx="815" cy="590" rx="42" ry="20"/><path class="t" d="M788,593 L842,587"/>
<ellipse class="w" cx="1020" cy="133" rx="38" ry="17"/><path class="t" d="M995,136 L1045,130"/>
<ellipse class="w" cx="1190" cy="300" rx="40" ry="18"/><path class="t" d="M1163,303 L1217,297"/>

<path class="f" d="M45,545 L55,460 Q70,425 110,410 Q190,395 230,400 Q265,440 275,540 L215,620 Z"/>
<path class="l" d="M25,552 L45,540 L55,460 Q70,425 110,412 Q160,400 185,425 Q205,470 208,540 L215,615 L225,632"/>
<path class="l" d="M150,405 L230,400 Q262,440 270,500 Q275,545 302,562"/>
<ellipse class="h" cx="112" cy="500" rx="28" ry="42" transform="rotate(-8 112 500)"/>
<path class="t" d="M105,480 Q100,505 115,525"/></g>
<g class="z4" transform="translate(880,430) scale(0.2506)">
<path class="l" d="M640,732 L1128,448 M620,735 L600,722 L445,668"/>
<path class="f" d="M365,640 L400,610 L430,520 Q450,470 520,458 Q580,470 600,520 L612,592 L640,600 L600,722 L445,668 Z"/>
<path class="l" d="M360,642 Q385,632 400,610 L430,520 Q450,470 500,458 M445,668 L490,600 L490,535 Q505,480 548,472 Q590,480 602,540 L610,590 L640,600 M490,640 L612,592 M365,640 L385,645"/>
<path class="l" d="M445,668 L600,722 Q612,738 640,730"/>
<ellipse class="l" cx="553" cy="545" rx="28" ry="36" transform="rotate(10 553 545)"/>
<path class="k" d="M530,540 Q535,510 558,510 Q575,515 578,535 Q560,520 545,530 Q535,545 540,572 Q528,560 530,540 Z"/>

<path class="w" d="M225,412 L270,532 Q285,548 310,546 L400,545 L430,520 L470,465 L550,462 L470,292 Q330,300 215,405 Z"/>
<path class="l" d="M225,415 Q330,315 470,298"/>
<path class="w" d="M165,378 Q240,318 330,285 Q420,252 500,245 Q518,255 512,272 Q505,285 490,288 Q400,300 330,325 Q250,358 188,420 Q172,410 165,378 Z"/>
<path class="l" d="M172,395 Q250,335 335,305 Q420,275 510,262"/>
<path class="w" d="M140,312 Q200,262 300,215 Q390,180 470,178 Q485,195 480,218 Q400,225 320,258 Q220,300 152,352 Q138,335 140,312 Z"/>
<path class="w" d="M150,245 Q160,190 200,160 Q250,125 330,116 Q400,108 430,135 Q450,160 470,178 Q390,180 300,215 Q200,262 140,312 Z"/>
<path class="l" d="M180,215 Q230,165 310,140 Q380,125 420,140"/>

<path class="l" d="M154,304 L160,334 M172,291 L178,321 M190,279 L196,309 M207,268 L213,298 M225,258 L231,288 M243,249 L249,279 M261,240 L267,270 M278,231 L284,261 M296,223 L302,253 M314,216 L320,246 M332,210 L338,240 M350,204 L356,234 M367,199 L373,229 M385,194 L391,224 M403,191 L409,221 M421,188 L427,218 M438,186 L444,216 M456,184 L462,214 M474,184 L480,214"/>
<path class="l" d="M370,150 L495,150"/>
</g>
<g class="z5" transform="translate(930,760) scale(0.1875)">
<path class="w" d="M530,245 L810,312 Q840,370 785,448 L500,345 Q480,300 490,290 Z"/>
<ellipse class="w" cx="790" cy="378" rx="46" ry="68" transform="rotate(12 790 378)"/>
<ellipse class="l" cx="792" cy="380" rx="20" ry="28" transform="rotate(12 792 380)"/>
<path class="l" d="M800,365 Q785,370 790,390"/>
<path class="l" d="M322,215 L345,255 M345,222 L368,268 M368,232 L391,280 M391,243 L414,292 M414,254 L437,302 M437,265 L460,312 M460,276 L480,318 M318,225 L485,300"/>
<path class="w" d="M190,205 L215,160 L262,150 L300,175 L310,240 L290,275 L240,280 L200,255 Z"/>
<path class="l" d="M215,160 L240,200 L240,280 M240,200 L290,185"/>
<ellipse class="w" cx="285" cy="222" rx="34" ry="48" transform="rotate(-10 285 222)"/>
<ellipse class="l" cx="290" cy="225" rx="14" ry="20"/></g>
<path class="bx" d="M952.7,476.4 L952.7,453 L1000,453"/>
<!-- 50_plate_gasket.py -->
<g id="plate">
<path class="l" d="M310,405.3 L364.4,422.4"/>
<path class="h" d="M368,367.7 L397,393 L396,400 L369.4,417 Q364,423 365.7,433 Q366.5,437 371,438 L472.7,466.5 L474,460.2 L490.3,462.7 Q496,470 500.3,479 Q504,483 507.8,481.5 L516.6,474 L638,505.3 L663,497.3 L667,499"/>
<path class="t" d="M518,477.5 L636,508"/>
<path class="t" d="M489,474 Q496,484 503,487 Q512,490 523,481.5"/>
<path class="l" d="M667,499 L667,566.7 Q650,576 640,578 Q628,580 615.6,575.5 L385.7,506.8"/>
<ellipse class="l" cx="445" cy="483" rx="6.8" ry="10" transform="rotate(8 445 483)"/><path class="t" d="M441,475 Q437,484 442,492"/>
<ellipse class="l" cx="533" cy="521" rx="6.3" ry="10" transform="rotate(5 533 521)"/><path class="t" d="M529,513 Q525,522 530,530"/>
<ellipse class="l" cx="617" cy="543" rx="6.3" ry="9.5" transform="rotate(5 617 543)"/><path class="t" d="M613,535 Q609,544 614,552"/>
<path class="t" d="M628,520 Q632,528 636,537 Q640,548 633,558 Q629,563 626.6,567"/>
</g>
<g class="z4" transform="translate(640,420) scale(0.2506)">
<path class="w" d="M160,88 Q165,40 205,38 Q245,40 250,88 Z"/>
<path class="l" d="M185,60 Q195,48 215,50"/>
<path class="w" d="M140,96 Q145,78 205,78 Q265,78 270,96 Q262,118 205,118 Q148,118 140,96 Z"/>
<path class="w" d="M188,118 L188,250 L200,285 L218,285 L230,250 L230,118 Z"/>
<path class="l" d="M178,135 L240,125 M178,158 L240,148 M178,181 L240,171 M178,204 L240,194 M178,227 L240,217 M183,248 L236,240"/>

<ellipse class="l" cx="606.0" cy="503.0" rx="31.0" ry="13.0" transform="rotate(8.0 606.0 503.0)"/>
<ellipse class="l" cx="606.8" cy="526.0" rx="31.0" ry="13.0" transform="rotate(8.0 606.8 526.0)"/>
<ellipse class="l" cx="607.6" cy="549.0" rx="31.0" ry="13.0" transform="rotate(8.0 607.6 549.0)"/>
<ellipse class="l" cx="608.4" cy="572.0" rx="31.0" ry="13.0" transform="rotate(8.0 608.4 572.0)"/>
<ellipse class="l" cx="609.2" cy="595.0" rx="31.0" ry="13.0" transform="rotate(8.0 609.2 595.0)"/>
<ellipse class="l" cx="610.0" cy="618.0" rx="31.0" ry="13.0" transform="rotate(8.0 610.0 618.0)"/>
<path class="l" d="M480,545 L576,545"/>
<path d="M265,340 Q268,325 300,308 L475,190 Q490,172 545,162 L600,150 L760,95 Q800,78 860,78 L960,75 Q1040,82 1072,108 Q1082,128 1062,150 L1180,200 L1100,280 L1115,440 L900,545 Q865,552 835,548 L285,378 Q262,362 265,340 Z" fill="url(#stipD4)" stroke="#000" stroke-width="8" stroke-linejoin="round"/>
<ellipse class="w" cx="855" cy="155" rx="96" ry="42" transform="rotate(-3 855 155)"/>
<path class="w" d="M788,390 Q795,352 860,350 Q920,352 940,380 Q975,385 1000,398 Q985,412 945,408 Q930,440 865,440 Q795,438 788,390 Z"/>
<path class="l" d="M905,398 Q925,385 945,392"/>
<ellipse class="w" cx="325" cy="340" rx="27" ry="19"/>
<ellipse class="w" cx="530" cy="187" rx="20" ry="13"/>
<ellipse class="w" cx="765" cy="228" rx="26" ry="15"/>
<ellipse class="w" cx="1025" cy="115" rx="22" ry="12"/>
<ellipse class="w" cx="880" cy="497" rx="28" ry="14"/>
<path class="w" d="M1000,212 Q1040,196 1075,200 Q1095,210 1085,225 Q1050,240 1005,228 Q992,220 1000,212 Z"/>
<path class="l" d="M1030,170 Q1060,175 1075,200"/>
<ellipse class="w" cx="610" cy="356" rx="30" ry="17"/>
<path d="M625,46 L588,50 Q570,55 572,80 L582,190 L615,270 L612,352" fill="none" stroke="#000" stroke-width="19" stroke-linecap="round" stroke-linejoin="round"/>
<path d="M625,46 L588,50 Q570,55 572,80 L582,190 L615,270 L612,352" fill="none" stroke="#fff" stroke-width="5" stroke-linecap="round" stroke-linejoin="round"/>
</g>
<!-- 70_smalltank.py -->
<g class="z4" transform="translate(175,555) scale(0.2506)">
<path class="f" d="M25,430 Q30,400 70,395 L75,355 L500,265 L710,215 L990,195 Q1060,195 1220,250 Q1252,265 1250,292 L1272,320 L1268,395 L1255,400 L1250,540 L1060,680 L560,810 Q520,815 480,805 L60,655 L60,530 Q25,510 25,470 Z"/>
<path class="l" d="M70,378 Q70,352 100,345 L500,262 L710,215 L990,195 Q1050,193 1210,246 Q1250,262 1246,290 L1105,395"/>
<path class="l" d="M70,378 Q68,398 100,402 L455,520 Q520,535 580,525 L830,468"/>
<path class="l" d="M70,392 Q30,398 25,430 Q25,445 45,455 L455,558 Q520,572 590,560 L870,502 M1105,437 L1270,322"/>
<path class="l" d="M25,430 Q22,470 32,482 L470,598 Q530,610 600,598 L880,538 M1100,480 L1272,362 L1272,322"/>
<path class="l" d="M32,482 Q40,520 62,532 L480,652 Q540,662 610,650 L900,582 M1090,522 L1268,395 L1272,362"/>
<path class="l" d="M60,530 L60,650 Q62,665 80,672 L480,805 Q520,815 560,810 L1060,680 L1250,540 L1256,402"/>

<ellipse class="l" cx="525" cy="336" rx="160" ry="58"/>
<path class="w" d="M460,345 L460,358 Q520,395 582,358 L582,345 Z"/>
<ellipse class="w" cx="521" cy="345" rx="61" ry="27"/>
<path class="w" d="M486,322 L486,335 Q520,352 556,335 L556,322 Z"/>
<ellipse class="w" cx="521" cy="322" rx="35" ry="14"/>
<path class="w" d="M505,135 L505,322 Q525,330 548,322 L548,135 Z"/>
<path class="t" d="M518,140 L518,322"/>
<path class="k" d="M463,88 L463,125 Q525,160 588,125 L588,88 Z"/>
<ellipse class="w" cx="525" cy="86" rx="62" ry="27"/>
<path class="l" d="M500,100 L552,72"/>

<path d="M780,362 Q800,320 860,310 Q960,285 1050,318 L1110,350 L1100,450 L1095,540 Q1080,580 1040,592 Q990,605 950,600 Q905,585 890,560 L860,480 Q840,445 800,430 Q772,400 780,362 Z" fill="url(#stipD4)" stroke="#000" stroke-width="9" stroke-linejoin="round"/>
<g clip-path="url(#cfoam)"><g transform="translate(37,23)"><path d="M850,500 L1120,430 L1120,620 L850,620 Z" fill="url(#stipL4)" style="mix-blend-mode:multiply"/></g></g>
<path class="l" d="M890,505 L910,501 M930,495 L952,490 M975,480 L995,474 M1015,462 L1035,456"/><path class="h" d="M1062,440 L1085,432"/>
<path class="l" d="M855,140 L930,385"/>
<path class="t" d="M508,815 L545,822 L508,832 L545,840 L508,850 L545,858 L510,866 M508,820 Q526,812 545,820 M508,838 Q526,830 545,838 M508,856 Q526,848 545,856"/>
</g>
<defs><clipPath id="cfoam"><path d="M780,362 Q800,320 860,310 Q960,285 1050,318 L1110,350 L1100,450 L1095,540 Q1080,580 1040,592 Q990,605 950,600 Q905,585 890,560 L860,480 Q840,445 800,430 Q772,400 780,362 Z"/></clipPath></defs>
<g id="r163">
<path class="l" d="M299,760 L311,762 L299,765.5 L311,768 L299,771.5 L311,774 L299,777.5 L311,780 L300,783"/>
<ellipse cx="309" cy="811" rx="52" ry="19.5" fill="url(#stipD)" stroke="#000" stroke-width="2.2"/>
<ellipse class="w" cx="309" cy="811" rx="43" ry="13.5"/>
</g>
<g id="labels">
<g><text class="n" text-anchor="middle" x="204.5 221.8 239.0" y="284.0" font-size="28">356</text></g>
<g><text class="n" text-anchor="middle" x="367.9 385.0 402.1" y="295.0" font-size="28">209</text></g>
<g><text class="n" text-anchor="middle" x="146.0 163.3" y="374.0" font-size="28">62</text><svg x="175.7" y="351.6" width="3.50" height="23.0" overflow="hidden"><text class="n" x="-6.51" y="22.4" font-size="28">1</text></svg></g>
<g><text class="n" text-anchor="middle" x="144.9 163.2 181.6" y="402.5" font-size="28">620</text></g>
<g><text class="n" text-anchor="middle" x="128.8 144.2 159.7" y="485.0" font-size="28">674</text></g>
<g><text class="n" text-anchor="middle" x="431.8 448.7" y="204.0" font-size="28">20</text><svg x="460.7" y="181.6" width="3.50" height="23.0" overflow="hidden"><text class="n" x="-6.51" y="22.4" font-size="28">1</text></svg></g>
<g><text class="n" text-anchor="middle" x="534.3 550.0 565.7" y="140.0" font-size="28">397</text></g>
<g><text class="n" text-anchor="middle" x="669.9 687.0 704.1" y="109.0" font-size="28">396</text></g>
<g><text class="n" text-anchor="middle" x="530.9 548.0 565.1" y="194.0" font-size="28">382</text></g>
<g><svg x="666.8" y="152.6" width="3.50" height="23.0" overflow="hidden"><text class="n" x="-6.51" y="22.4" font-size="28">1</text></svg><text class="n" text-anchor="middle" x="682.5" y="175.0" font-size="28">4</text><svg x="694.7" y="152.6" width="3.50" height="23.0" overflow="hidden"><text class="n" x="-6.51" y="22.4" font-size="28">1</text></svg></g>
<g><svg x="521.2" y="256.6" width="3.50" height="23.0" overflow="hidden"><text class="n" x="-6.51" y="22.4" font-size="28">1</text></svg><text class="n" text-anchor="middle" x="536.2 552.4" y="279.0" font-size="28">48</text></g>
<g><svg x="582.7" y="242.6" width="3.50" height="23.0" overflow="hidden"><text class="n" x="-6.51" y="22.4" font-size="28">1</text></svg><svg x="592.4" y="242.6" width="3.50" height="23.0" overflow="hidden"><text class="n" x="-6.51" y="22.4" font-size="28">1</text></svg><text class="n" text-anchor="middle" x="606.8" y="265.0" font-size="28">7</text></g>
<g><svg x="475.8" y="283.6" width="3.50" height="23.0" overflow="hidden"><text class="n" x="-6.51" y="22.4" font-size="28">1</text></svg><text class="n" text-anchor="middle" x="490.9 507.4" y="306.0" font-size="28">49</text></g>
<g><svg x="647.6" y="289.1" width="3.50" height="23.0" overflow="hidden"><text class="n" x="-6.51" y="22.4" font-size="28">1</text></svg><text class="n" text-anchor="middle" x="661.4 676.1" y="311.5" font-size="28">47</text></g>
<g><svg x="559.8" y="335.6" width="3.50" height="23.0" overflow="hidden"><text class="n" x="-6.51" y="22.4" font-size="28">1</text></svg><svg x="570.5" y="335.6" width="3.50" height="23.0" overflow="hidden"><text class="n" x="-6.51" y="22.4" font-size="28">1</text></svg><text class="n" text-anchor="middle" x="586.1" y="358.0" font-size="28">6</text></g>
<g><svg x="622.8" y="322.6" width="3.50" height="23.0" overflow="hidden"><text class="n" x="-6.51" y="22.4" font-size="28">1</text></svg><svg x="633.4" y="322.6" width="3.50" height="23.0" overflow="hidden"><text class="n" x="-6.51" y="22.4" font-size="28">1</text></svg><text class="n" text-anchor="middle" x="648.8" y="345.0" font-size="28">4</text></g>
<g><svg x="449.8" y="350.6" width="3.50" height="23.0" overflow="hidden"><text class="n" x="-6.51" y="22.4" font-size="28">1</text></svg><svg x="460.4" y="350.6" width="3.50" height="23.0" overflow="hidden"><text class="n" x="-6.51" y="22.4" font-size="28">1</text></svg><text class="n" text-anchor="middle" x="475.9" y="373.0" font-size="28">8</text></g>
<g><text class="n" text-anchor="middle" x="632.9 651.3" y="379.0" font-size="28">68</text><svg x="664.6" y="356.6" width="3.50" height="23.0" overflow="hidden"><text class="n" x="-6.51" y="22.4" font-size="28">1</text></svg></g>
<g><svg x="832.8" y="45.2" width="3.50" height="23.0" overflow="hidden"><text class="n" x="-6.51" y="22.4" font-size="28">1</text></svg><text class="n" text-anchor="middle" x="848.7 866.0" y="67.6" font-size="28">08</text></g>
<g><text class="n" text-anchor="middle" x="976.7 993.3 1009.9" y="94.0" font-size="28">529</text></g>
<g><svg x="1071.8" y="140.4" width="3.50" height="23.0" overflow="hidden"><text class="n" x="-6.51" y="22.4" font-size="28">1</text></svg><svg x="1084.4" y="140.4" width="3.50" height="23.0" overflow="hidden"><text class="n" x="-6.51" y="22.4" font-size="28">1</text></svg></g>
<g><text class="n" text-anchor="middle" x="962.9" y="200.4" font-size="28">6</text><svg x="973.1" y="178.0" width="3.50" height="23.0" overflow="hidden"><text class="n" x="-6.51" y="22.4" font-size="28">1</text></svg><text class="n" text-anchor="middle" x="986.9" y="200.4" font-size="28">7</text></g>
<g><svg x="1073.7" y="227.6" width="3.50" height="23.0" overflow="hidden"><text class="n" x="-6.51" y="22.4" font-size="28">1</text></svg><text class="n" text-anchor="middle" x="1088.0" y="250.0" font-size="28">3</text><svg x="1098.8" y="227.6" width="3.50" height="23.0" overflow="hidden"><text class="n" x="-6.51" y="22.4" font-size="28">1</text></svg></g>
<g><text class="n" text-anchor="middle" x="975.6 992.0 1008.4" y="264.0" font-size="28">634</text></g>
<g><svg x="928.8" y="291.6" width="3.50" height="23.0" overflow="hidden"><text class="n" x="-6.51" y="22.4" font-size="28">1</text></svg><text class="n" text-anchor="middle" x="944.0" y="314.0" font-size="28">5</text><svg x="955.7" y="291.6" width="3.50" height="23.0" overflow="hidden"><text class="n" x="-6.51" y="22.4" font-size="28">1</text></svg></g>
<g><svg x="997.4" y="322.6" width="3.50" height="23.0" overflow="hidden"><text class="n" x="-6.51" y="22.4" font-size="28">1</text></svg><text class="n" text-anchor="middle" x="1012.4 1028.5" y="345.0" font-size="28">52</text></g>
<g><text class="n" text-anchor="middle" x="1119.7 1136.3" y="312.8" font-size="28">96</text></g>
<g><text class="n" text-anchor="middle" x="1125.5 1141.5" y="364.0" font-size="28">95</text></g>
<g><text class="n" text-anchor="middle" x="943.9 959.6 975.3" y="381.7" font-size="28">392</text></g>
<g><text class="n" text-anchor="middle" x="947.7 964.4 981.0" y="410.5" font-size="28">432</text></g>
<g><svg x="1118.7" y="394.4" width="3.50" height="23.0" overflow="hidden"><text class="n" x="-6.51" y="22.4" font-size="28">1</text></svg><text class="n" text-anchor="middle" x="1133.4 1149.2" y="416.8" font-size="28">25</text></g>
<g><text class="n" text-anchor="middle" x="790.6" y="339.0" font-size="28">6</text><svg x="802.2" y="316.6" width="3.50" height="23.0" overflow="hidden"><text class="n" x="-6.51" y="22.4" font-size="28">1</text></svg><text class="n" text-anchor="middle" x="817.4" y="339.0" font-size="28">2</text></g>
<g><text class="n" text-anchor="middle" x="890.0" y="339.0" font-size="28">6</text><svg x="902.5" y="316.6" width="3.50" height="23.0" overflow="hidden"><text class="n" x="-6.51" y="22.4" font-size="28">1</text></svg><svg x="913.5" y="316.6" width="3.50" height="23.0" overflow="hidden"><text class="n" x="-6.51" y="22.4" font-size="28">1</text></svg></g>
<g><text class="n" text-anchor="middle" x="737.1 754.5 771.9" y="425.4" font-size="28">394</text></g>
<g><svg x="638.9" y="454.1" width="3.50" height="23.0" overflow="hidden"><text class="n" x="-6.51" y="22.4" font-size="28">1</text></svg><text class="n" text-anchor="middle" x="655.4 673.5" y="476.5" font-size="28">90</text></g>
<g><text class="n" text-anchor="middle" x="713.2 731.7 750.2" y="554.0" font-size="28">390</text></g>
<g><text class="n" text-anchor="middle" x="676.3 694.2 712.0 725.4 738.9 758.1" y="579.0" font-size="28">SPRING</text></g>
<g><svg x="1006.4" y="456.6" width="3.50" height="23.0" overflow="hidden"><text class="n" x="-6.51" y="22.4" font-size="28">1</text></svg><text class="n" text-anchor="middle" x="1021.6" y="479.0" font-size="28">8</text><svg x="1033.3" y="456.6" width="3.50" height="23.0" overflow="hidden"><text class="n" x="-6.51" y="22.4" font-size="28">1</text></svg></g>
<g><svg x="1100.4" y="456.6" width="3.50" height="23.0" overflow="hidden"><text class="n" x="-6.51" y="22.4" font-size="28">1</text></svg><text class="n" text-anchor="middle" x="1116.8 1134.7" y="479.0" font-size="28">80</text></g>
<g><text class="n" text-anchor="middle" x="364.5 380.5 396.5" y="587.6" font-size="28">535</text></g>
<g><text class="n" text-anchor="middle" x="443.5 459.5 475.5" y="587.6" font-size="28">536</text></g>
<g><text class="n" text-anchor="middle" x="247.1 263.0 278.9" y="596.4" font-size="28">534</text></g>
<g><svg x="369.9" y="797.6" width="3.50" height="23.0" overflow="hidden"><text class="n" x="-6.51" y="22.4" font-size="28">1</text></svg><text class="n" text-anchor="middle" x="386.7 405.1" y="820.0" font-size="28">63</text></g>
<g><svg x="957.9" y="818.2" width="3.50" height="23.0" overflow="hidden"><text class="n" x="-6.51" y="22.4" font-size="28">1</text></svg><text class="n" text-anchor="middle" x="973.9 991.3" y="840.6" font-size="28">88</text></g>
<g><text class="n" text-anchor="middle" x="1097.2 1112.5 1127.8" y="840.6" font-size="28">670</text></g>
</g>
<text class="wm" x="323 405 477 538 585 649 737 791 859" y="482" font-size="150">PartsTree</text>
<text class="wm" x="928" y="391" font-size="9">TM</text>
</svg>
</body></html>
